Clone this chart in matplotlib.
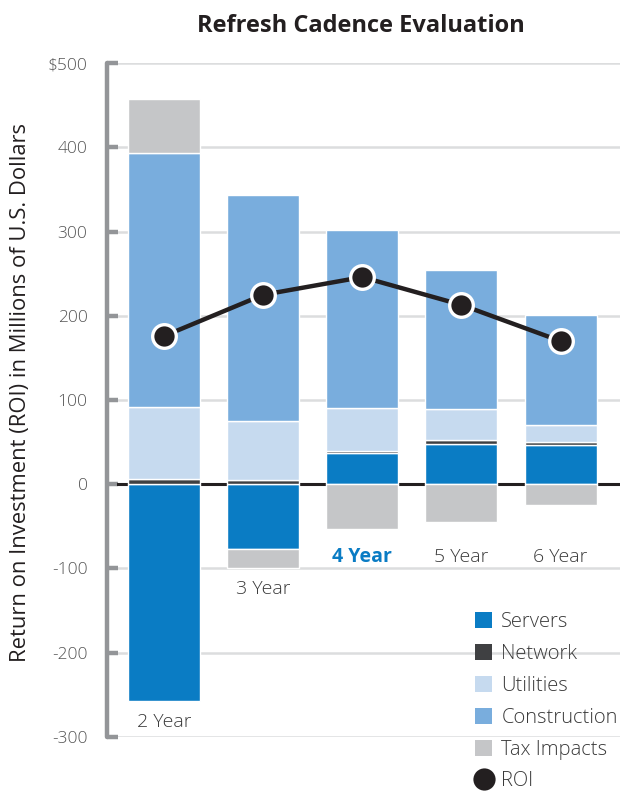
import numpy as np
import matplotlib.pyplot as plt
from matplotlib.patches import Patch
from matplotlib.lines import Line2D

plt.rcParams['font.family'] = ['Open Sans', 'DejaVu Sans']

# ================== Data ==================
years = ['2 Year', '3 Year', '4 Year', '5 Year', '6 Year']
servers = [-258, -77, 37, 48, 47]
network = [6, 5, 3, 4, 3]
utilities = [86, 70, 51, 37, 20]
construction = [301, 268, 211, 166, 131]
tax_impacts = [64, -23, -53, -45, -25]
roi = [176, 225, 246, 213, 170]

series = [('Servers', servers, '#0a7cc4'),
          ('Network', network, '#3f4042'),
          ('Utilities', utilities, '#c6daef'),
          ('Construction', construction, '#79addd'),
          ('Tax Impacts', tax_impacts, '#c5c6c8')]

grid_col = '#dcddde'
spine_col = '#939598'
text_col = '#3a3a3a'

fig = plt.figure(figsize=(6.26, 7.91), dpi=100)
ax = fig.add_axes([107 / 626, 1 - 736.7 / 791, (620 - 107) / 626, (736.7 - 63.3) / 791])

x = np.arange(len(years))
width = 0.727

# diverging stacks: positives go up from 0, negatives go down
pos_base = np.zeros(len(years))
neg_base = np.zeros(len(years))
for name, vals, col in series:
    vals = np.array(vals, dtype=float)
    base = np.where(vals >= 0, pos_base, neg_base)
    ax.bar(x, vals, width, bottom=base, color=col, edgecolor='white',
           linewidth=1.0, zorder=3)
    pos_base = pos_base + np.clip(vals, 0, None)
    neg_base = neg_base + np.clip(vals, None, 0)

# ROI line
ax.plot(x, roi, color='#231f20', lw=3.2, marker='o', markersize=17,
        markerfacecolor='#231f20', markeredgecolor='white',
        markeredgewidth=2.4, zorder=5)

# grid + zero line
xmin_frac = 11 / 513
for yv in range(-300, 501, 100):
    if yv == 0:
        continue
    ax.axhline(yv, xmin=xmin_frac, xmax=1, color=grid_col, lw=1.8, zorder=1)
ax.axhline(0, xmin=xmin_frac, xmax=1, color='#231f20', lw=2.2, zorder=2)

ax.set_xlim(-0.576, 4.6)
ax.set_ylim(-300, 500)

for s in ['top', 'right', 'bottom']:
    ax.spines[s].set_visible(False)
ax.spines['left'].set_color(spine_col)
ax.spines['left'].set_linewidth(3.2)
ax.spines['left'].set_capstyle('round')

ax.set_xticks([])
ax.set_yticks(range(-300, 501, 100))
ax.set_yticklabels(['-300', '-200', '-100', '0', '100', '200', '300', '400', '$500'],
                   fontweight='light')
ax.tick_params(axis='y', direction='in', length=8, width=3.2, color=spine_col,
               labelsize=12.5, labelcolor='#555555', pad=14)

# category labels under each bar's lowest point
for i, lab in enumerate(years):
    y_lab = min(neg_base[i] - 25, -86)
    if lab == '4 Year':
        ax.text(x[i], y_lab, lab, ha='center', va='center', fontsize=14,
                color='#0a7cc4', fontweight='bold')
    else:
        ax.text(x[i], y_lab, lab, ha='center', va='center', fontsize=14,
                color=text_col, fontweight='light')

fig.text(0.576, 1 - 26 / 791, 'Refresh Cadence Evaluation', ha='center', va='center',
         fontsize=17, fontweight='bold', color='#231f20')
fig.text(21 / 626, 1 - 392 / 791, 'Return on Investment (ROI) in Millions of U.S. Dollars',
         rotation=90, ha='center', va='center', fontsize=15.8, color='#231f20')

handles = [Patch(facecolor=col, edgecolor='none') for _, _, col in series]
handles.append(Line2D([], [], color='none', marker='o', markersize=16,
                      markerfacecolor='#231f20', markeredgecolor='none'))
labels = [name for name, _, _ in series] + ['ROI']
leg = fig.legend(handles, labels, loc='upper left', bbox_to_anchor=(0.759, 1 - 612 / 791),
                 frameon=False, fontsize=14.5, handlelength=0.85, handleheight=0.85,
                 handletextpad=0.45, labelspacing=0.59, borderpad=0, borderaxespad=0,
                 labelcolor=text_col)
for t in leg.get_texts():
    t.set_fontweight('light')

fig.savefig('out.png', dpi=100)
